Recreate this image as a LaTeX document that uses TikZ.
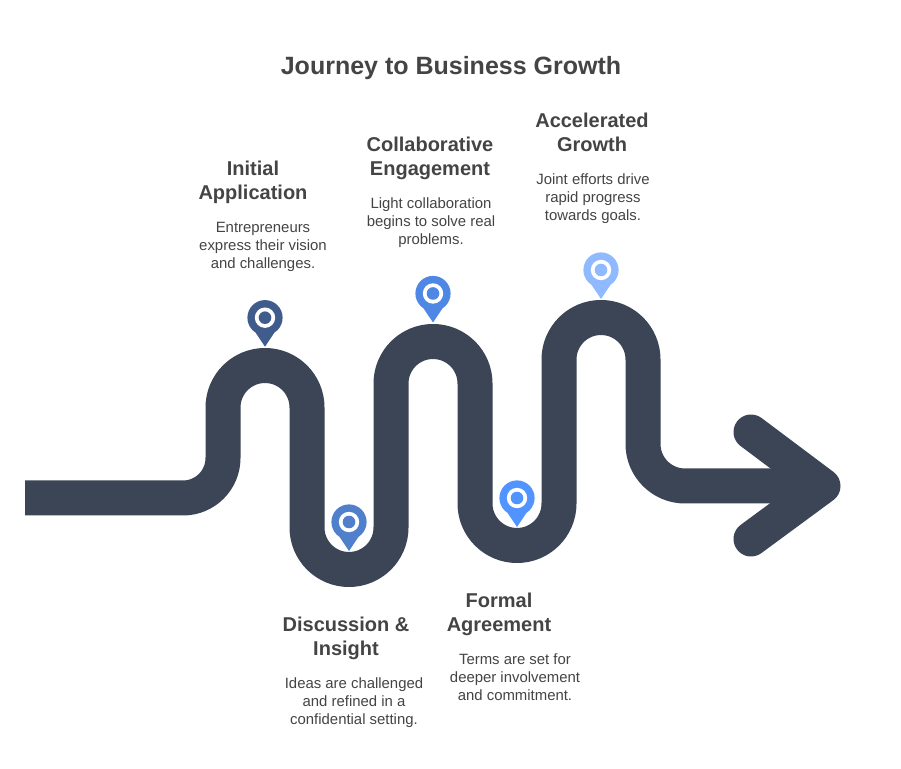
\documentclass[tikz,border=0pt]{standalone}
\usepackage{fontspec}
\setmainfont{Liberation Sans}
\definecolor{road}{HTML}{3C4556}
\definecolor{ink}{HTML}{444444}
\definecolor{pinA}{HTML}{3F5C8D}
\definecolor{pinB}{HTML}{5080CC}
\definecolor{pinC}{HTML}{4F87E5}
\definecolor{pinD}{HTML}{5294FF}
\definecolor{pinE}{HTML}{90BAFF}
\tikzset{
  x=1pt,y=1pt,
  roadline/.style={draw=road,line width=35pt,line join=round},
  titletext/.style={text=ink,align=center,inner sep=0pt,font=\fontsize{25}{30}\selectfont\bfseries},
  headtext/.style={text=ink,align=center,inner sep=0pt,font=\fontsize{20}{24}\selectfont\bfseries},
  bodytext/.style={text=ink,align=center,inner sep=0pt,font=\fontsize{14.9}{18}\selectfont},
  pics/pin/.style={code={
    \fill[#1] (0,0) circle[radius=17.6];
    \fill[#1] (-9.5,-14.8) -- (0,-29) -- (9.5,-14.8) -- cycle;
    \fill[white] (0,0) circle[radius=10.2];
    \fill[#1] (0,0) circle[radius=6.3];
  }}
}
\begin{document}
\begin{tikzpicture}
\useasboundingbox[fill=white] (0,0) rectangle (901,768);
% road
\draw[roadline] (25,270) -- (183,270) arc[start angle=-90,end angle=0,radius=40]
  -- (223,360.5) arc[start angle=180,end angle=0,radius=42]
  -- (307,240.5) arc[start angle=180,end angle=360,radius=42]
  -- (391,384.5) arc[start angle=180,end angle=0,radius=42]
  -- (475,264.5) arc[start angle=180,end angle=360,radius=42]
  -- (559,408.5) arc[start angle=180,end angle=0,radius=42]
  -- (643,324) arc[start angle=180,end angle=270,radius=42]
  -- (823,282);
\draw[roadline,line cap=round] (751,336) -- (823,282) -- (751,229);
% pins
\pic at (265,450.3) {pin=pinA};
\pic at (349,246) {pin=pinB};
\pic at (433,474.5) {pin=pinC};
\pic at (517,270) {pin=pinD};
\pic at (601,498) {pin=pinE};
% text
\node[titletext] (title) at (451,700) {Journey to Business Growth};
\node[headtext] (h1) at (253,586) {Initial\\Application};
\node[bodytext] (b1) at (263,521) {Entrepreneurs\\express their vision\\and challenges.};
\node[headtext] (h2) at (430,610) {Collaborative\\Engagement};
\node[bodytext] (b2) at (431,545) {Light collaboration\\begins to solve real\\problems.};
\node[headtext] (h3) at (592,636) {Accelerated\\Growth};
\node[bodytext] (b3) at (593,569) {Joint efforts drive\\rapid progress\\towards goals.};
\node[headtext] (h4) at (346,130) {Discussion \&\\Insight};
\node[bodytext] (b4) at (354,65) {Ideas are challenged\\and refined in a\\confidential setting.};
\node[headtext] (h5) at (499,154) {Formal\\Agreement};
\node[bodytext] (b5) at (515,91) {Terms are set for\\deeper involvement\\and commitment.};
\end{tikzpicture}
\end{document}
